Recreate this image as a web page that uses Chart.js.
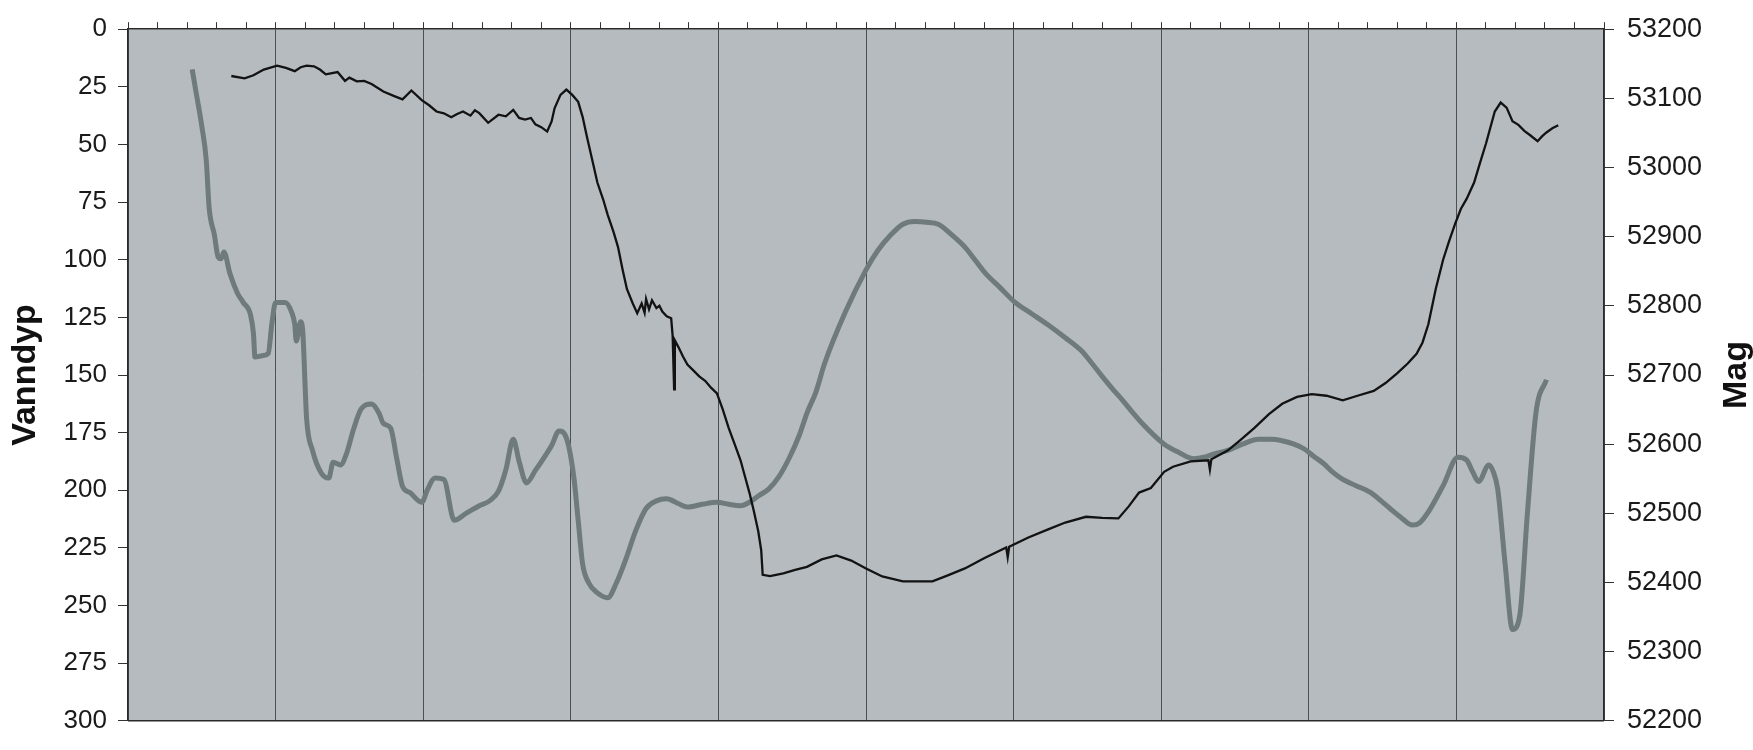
<!DOCTYPE html>
<html>
<head>
<meta charset="utf-8">
<script src="https://cdn.jsdelivr.net/npm/chart.js@4/dist/chart.umd.min.js"></script>
<style>
  html, body { margin: 0; padding: 0; background: #fff; }
  #wrap { width: 1753px; height: 750px; }
</style>
</head>
<body>
<div id="wrap"><canvas id="myChart"></canvas></div>
<script>
// water depth (black, left axis, reversed)
const depthX = [7.0, 7.9, 8.5, 9.2, 10.1, 10.7, 11.3, 11.7, 12.1, 12.6, 13.0, 13.4, 14.2, 14.7, 15.0, 15.5, 16.0, 16.5, 17.3, 18.0,
  18.6, 19.2, 19.9, 20.4, 20.9, 21.4, 21.9, 22.3, 22.7, 23.2, 23.5, 23.8, 24.4, 25.1, 25.6, 26.1, 26.5, 26.9, 27.3, 27.6,
  28.0, 28.4, 28.7, 28.9, 29.3, 29.7, 30.1, 30.5, 30.8, 31.1, 31.5, 31.8, 32.2, 32.5, 32.9, 33.2, 33.5, 33.8, 34.2, 34.5,
  34.8, 35.0, 35.1, 35.3, 35.5, 35.8, 36.0, 36.2, 36.5, 36.8, 36.9, 37.0, 37.05, 37.3, 37.6, 37.9, 38.3, 38.7, 39.1, 39.5,
  39.9, 40.3, 40.7, 41.1, 41.5, 41.8, 42.1, 42.4, 42.7, 42.9, 43.0, 43.5, 44.4, 45.2, 46.0, 47.0, 48.0, 49.0, 50.0, 51.1,
  52.5, 53.5, 54.5, 55.5, 56.7, 58.0, 59.5, 59.6, 59.7, 61.0, 62.3, 63.5, 64.9, 66.0, 67.1, 67.8, 68.5, 69.3, 70.2, 70.8,
  72.0, 73.2, 73.3, 73.4, 74.5, 75.4, 76.3, 77.3, 78.2, 79.2, 80.2, 81.2, 82.3, 83.3, 84.4, 85.2, 86.0, 86.7, 87.3, 87.7,
  88.1, 88.6, 89.1, 89.5, 89.9, 90.3, 90.7, 91.2, 91.6, 92.0, 92.6, 93.0, 93.4, 93.8, 94.2, 94.6, 95.0, 95.5, 95.8, 96.1,
  96.5, 96.9]
const depth = [20.3, 21.3, 20, 17.5, 15.8, 16.8, 18.2, 16.5, 15.8, 16.1, 17.5, 19.6, 18.6, 22.4, 21, 22.6, 22.4, 23.8, 27.0, 28.9,
  30.4, 26.6, 30.8, 33, 35.7, 36.5, 38.2, 36.8, 35.7, 37.5, 35.2, 36.4, 40.6, 37.1, 37.8, 35.0, 38.5, 39.2, 38.5, 41.3,
  42.5, 44.4, 40, 34.3, 28.5, 26.2, 28.5, 31.5, 38, 46.9, 58, 66.5, 74, 80.5, 88, 94.5, 104, 112.7, 119, 123.2,
  119, 123, 117, 121.5, 117.6, 121, 120, 122.5, 124.5, 125.4, 133, 156.2, 135, 138, 142, 145.5, 148, 150.6, 152.5, 155.5,
  158, 165, 173, 180, 187, 194, 201, 209, 217.8, 226, 236.7, 237.2, 236, 234.5, 233.2, 230, 228.3, 230.5, 233.9, 237.4,
  239.5, 239.5, 239.5, 237, 233.9, 229.5, 224.8, 229, 224.5, 220.5, 217.1, 214, 211.5, 212, 212.2, 207, 201, 199, 192, 189.8,
  187.5, 187, 191, 186.5, 182.8, 178, 173, 167, 162.5, 159.5, 158.3, 159, 161, 159, 156.9, 153.5, 149.2, 145, 140.8, 136,
  128, 112.7, 100, 92, 84.7, 78, 73.5, 66.5, 58, 49.7, 35.7, 31.8, 34, 39.9, 41.5, 44.1, 46, 48.6, 46.5, 44.8,
  43, 41.7]

// magnetic field (grey, right axis)
const magX = [4.35, 4.6, 4.8, 5.0, 5.3, 5.5, 5.85, 6.1, 6.3, 6.5, 6.9, 7.4, 7.8, 8.3, 8.5, 8.6, 9.1, 9.5, 9.75, 10.0,
  10.65, 11.1, 11.3, 11.4, 11.7, 11.85, 12.0, 12.1, 12.5, 13.1, 13.6, 13.9, 14.4, 14.8, 15.3, 15.8, 16.5, 17.0, 17.3, 17.8,
  18.2, 18.6, 19.1, 19.9, 20.3, 20.8, 21.4, 22.1, 22.9, 23.8, 24.5, 25.1, 25.6, 26.1, 26.5, 27.0, 27.6, 28.2, 28.7, 29.2,
  29.7, 30.2, 30.5, 30.8, 31.2, 31.8, 32.5, 33.1, 33.7, 34.4, 35.1, 35.8, 36.5, 37.2, 37.9, 38.9, 39.9, 40.7, 41.5, 42.1,
  42.7, 43.4, 44.1, 44.8, 45.5, 46.0, 46.6, 47.2, 48.6, 50.0, 50.8, 51.7, 52.5, 53.3, 54.1, 54.9, 55.8, 56.7, 57.4, 58.1,
  59.1, 60.1, 61.2, 62.3, 63.5, 64.6, 65.3, 66.0, 66.7, 67.4, 68.1, 68.8, 69.5, 70.2, 71.2, 72.2, 72.9, 73.6, 74.5, 75.5,
  76.6, 77.4, 78.2, 79.0, 79.7, 80.3, 81.0, 81.6, 82.3, 83.2, 84.2, 84.9, 85.5, 86.3, 87.0, 87.5, 88.1, 89.1, 90.1, 90.7,
  91.1, 91.5, 92.2, 92.5, 92.8, 93.3, 93.8, 94.3, 94.8, 95.4, 96.1]
const mag = [53142, 53110, 53086, 53060, 53011, 52941, 52903, 52871, 52868, 52878, 52847, 52819, 52805, 52787, 52760, 52726, 52728, 52731, 52775, 52805,
  52805, 52790, 52773, 52749, 52777, 52760, 52684, 52637, 52591, 52558, 52551, 52574, 52570, 52586, 52623, 52651, 52658, 52645, 52630, 52623,
  52580, 52539, 52530, 52516, 52535, 52551, 52549, 52490, 52500, 52511, 52518, 52532, 52563, 52607, 52575, 52544, 52562, 52581, 52598, 52619,
  52609, 52553, 52490, 52427, 52400, 52385, 52378, 52400, 52432, 52475, 52507, 52518, 52521, 52515, 52509, 52513, 52516, 52513, 52511, 52516,
  52525, 52535, 52553, 52580, 52614, 52645, 52675, 52717, 52791, 52852, 52880, 52903, 52918, 52922, 52921, 52918, 52903, 52885, 52866, 52847,
  52826, 52805, 52789, 52773, 52754, 52735, 52717, 52698, 52680, 52663, 52645, 52628, 52613, 52600, 52588, 52579, 52581, 52586, 52591, 52600,
  52607, 52607, 52605, 52600, 52593, 52583, 52572, 52560, 52549, 52540, 52530, 52518, 52507, 52493, 52483, 52486, 52502, 52540, 52581, 52577,
  52560, 52546, 52570, 52560, 52535, 52427, 52332, 52353, 52497, 52647, 52693]

const depthTicks = [0, 25, 50, 75, 100, 125, 150, 175, 200, 225, 250, 275, 300]
const magTicks = [52200, 52300, 52400, 52500, 52600, 52700, 52800, 52900, 53000, 53100, 53200]

const plotBg = {
  id: 'plotBg',
  beforeDraw(chart) {
    const {ctx, chartArea: a} = chart
    ctx.save()
    ctx.fillStyle = '#b5bbbf'
    ctx.fillRect(a.left, a.top, a.right - a.left, a.bottom - a.top)
    ctx.restore()
  },
  afterDraw(chart) {
    const {ctx, chartArea: a} = chart
    ctx.save()
    // bottom frame line
    ctx.strokeStyle = '#2a2a2a'
    ctx.lineWidth = 1.5
    ctx.beginPath()
    ctx.moveTo(a.left, a.bottom)
    ctx.lineTo(a.right, a.bottom)
    ctx.stroke()
    // right axis title, reads bottom to top
    ctx.translate(chart.width - 16, (a.top + a.bottom) / 2)
    ctx.rotate(-Math.PI / 2)
    ctx.font = 'bold 34px "Liberation Sans", Arial, sans-serif'
    ctx.fillStyle = '#111'
    ctx.textAlign = 'center'
    ctx.textBaseline = 'middle'
    ctx.fillText('Mag', 0, 0)
    ctx.restore()
  }
}

const ctx = document.getElementById('myChart').getContext('2d')
const chart = new Chart(ctx, {
  type: 'line',
  data: {
    datasets: [
      {
        label: 'Vanndyp',
        data: depthX.map((x, i) => ({x: x, y: depth[i]})),
        yAxisID: 'y',
        borderColor: '#121212',
        borderWidth: 2.3,
        pointRadius: 0,
        tension: 0
      },
      {
        label: 'Mag',
        data: magX.map((x, i) => ({x: x, y: mag[i]})),
        yAxisID: 'y2',
        borderColor: '#6e7a7b',
        borderWidth: 5,
        pointRadius: 0,
        cubicInterpolationMode: 'monotone'
      }
    ]
  },
  options: {
    responsive: true,
    maintainAspectRatio: false,
    animation: false,
    layout: {padding: {top: 0, left: 0, right: 0, bottom: 21}},
    plugins: {legend: {display: false}, tooltip: {enabled: false}},
    scales: {
      x: {
        type: 'linear',
        position: 'top',
        min: 0,
        max: 100,
        ticks: {display: false, stepSize: 2},
        grid: {
          color: c => (Math.round(c.tick.value) % 10 === 0 ? '#4b5053' : 'rgba(0,0,0,0)'),
          tickColor: '#333',
          tickLength: 7,
          lineWidth: 1
        },
        border: {color: '#2a2a2a', width: 1.5},
        afterFit: s => { s.height = 15 }
      },
      y: {
        type: 'linear',
        position: 'left',
        reverse: true,
        min: 0,
        max: 300,
        afterBuildTicks: s => { s.ticks = depthTicks.map(v => ({value: v})) },
        ticks: {
          font: {family: '"Liberation Sans", Arial, sans-serif', size: 26},
          color: '#1a1a1a',
          padding: 11,
          callback: v => String(v)
        },
        grid: {drawOnChartArea: false, tickLength: 10, color: '#333'},
        border: {color: '#2a2a2a', width: 1.5},
        title: {
          display: true,
          text: 'Vanndyp',
          color: '#111',
          font: {family: '"Liberation Sans", Arial, sans-serif', size: 34, weight: 'bold'},
          padding: {top: 5, bottom: 0}
        },
        afterFit: s => { s.width = 128 }
      },
      y2: {
        type: 'linear',
        position: 'right',
        min: 52200,
        max: 53200,
        afterBuildTicks: s => { s.ticks = magTicks.map(v => ({value: v})) },
        ticks: {
          font: {family: '"Liberation Sans", Arial, sans-serif', size: 27},
          color: '#1a1a1a',
          padding: 13,
          callback: v => String(v)
        },
        grid: {drawOnChartArea: false, tickLength: 10, color: '#333'},
        border: {color: '#2a2a2a', width: 1.5},
        afterFit: s => { s.width = 149 }
      }
    }
  },
  plugins: [plotBg]
})
</script>
</body>
</html>
